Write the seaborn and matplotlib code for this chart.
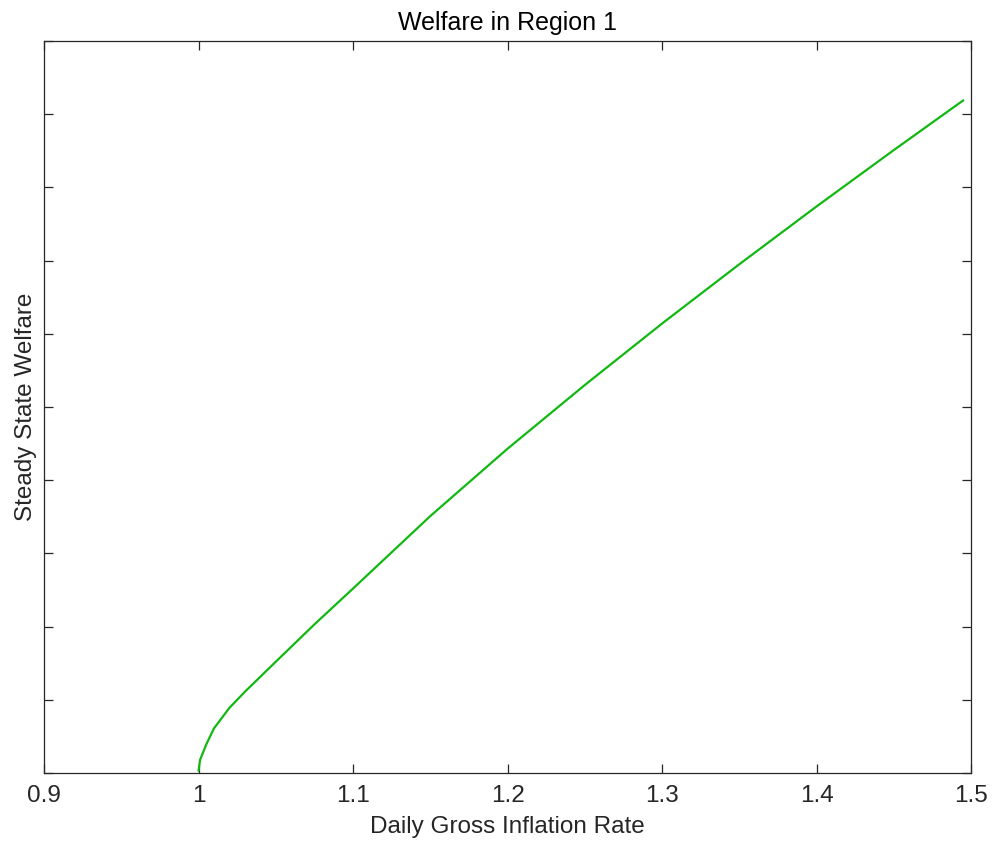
import matplotlib
matplotlib.use("Agg")
import matplotlib.pyplot as plt
import matplotlib.ticker as mticker
import pandas as pd
import seaborn as sns

# values (y in tick-interval units, axis has no y labels)
inflation = [1.0, 1.001, 1.005, 1.01, 1.02, 1.03, 1.05, 1.075, 1.1,
             1.15, 1.2, 1.25, 1.3, 1.35, 1.4, 1.45, 1.495]
welfare = [0.03, 0.18, 0.39, 0.61, 0.89, 1.11, 1.52, 2.03, 2.52,
           3.51, 4.43, 5.30, 6.14, 6.95, 7.74, 8.51, 9.19]
x_ticks = [0.9, 1.0, 1.1, 1.2, 1.3, 1.4, 1.5]
y_ticks = list(range(0, 11))

df = pd.DataFrame({"inflation": inflation, "welfare": welfare})

sns.set_style("white")
plt.rcParams["font.family"] = ["Liberation Sans", "DejaVu Sans"]

INK = "#262626"
fig = plt.figure(figsize=(9.94, 8.46), dpi=100)
ax = fig.add_axes([0.0443, 0.0863, 0.9326, 0.8652])

sns.lineplot(data=df, x="inflation", y="welfare", color="#12b812", linewidth=1.6, ax=ax)

ax.set_xlim(0.9, 1.5)
ax.set_ylim(0, 10)
ax.set_xticks(x_ticks)
ax.set_yticks(y_ticks)
ax.xaxis.set_major_formatter(mticker.FuncFormatter(lambda v, _: f"{v:g}"))
ax.set_yticklabels([])
ax.tick_params(direction="in", length=6.5, width=0.9, colors=INK,
               top=True, right=True, left=True, bottom=True,
               labelsize=17.5, pad=9)
for s in ax.spines.values():
    s.set_color(INK)
    s.set_linewidth(0.9)

ax.set_title("Welfare in Region 1", fontsize=18, color="black", pad=8)
ax.set_xlabel("Daily Gross Inflation Rate", fontsize=17.5, color=INK, labelpad=6)
ax.set_ylabel("Steady State Welfare", fontsize=17.5, color=INK)
ax.yaxis.set_label_coords(-0.008, 0.5)

fig.savefig("out.png", dpi=100)
